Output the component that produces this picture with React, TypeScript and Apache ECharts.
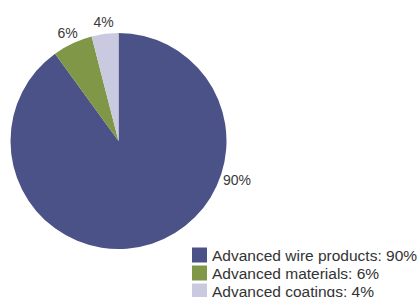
import React, { useEffect, useRef } from "react";
import * as echarts from "echarts";

const categories = ["Advanced wire products", "Advanced materials", "Advanced coatings"];
const values = [90, 6, 4];
const colors = ["#4b5288", "#7f9746", "#c9cadf"];

export default function App() {
  const ref = useRef<HTMLDivElement>(null);
  useEffect(() => {
    const chart = echarts.init(ref.current!, null, { renderer: "svg" });
    const font = "'Liberation Sans', Arial, Helvetica, sans-serif";
    const cx = 118.5;
    const cy = 141;
    const total = values.reduce((a, b) => a + b, 0);
    const mids: number[] = [];
    let acc = 0;
    values.forEach((v) => {
      const mid = 90 - ((acc + v / 2) / total) * 360;
      mids.push((mid * Math.PI) / 180);
      acc += v;
    });
    chart.setOption({
      animation: false,
      legend: {
        orient: "vertical",
        left: 192,
        top: 247,
        padding: 0,
        itemWidth: 15,
        itemHeight: 15,
        itemGap: 2,
        icon: "rect",
        formatter: (name: string) => {
          const i = categories.indexOf(name);
          return `${name}: ${values[i]}%`;
        },
        textStyle: { fontFamily: font, fontSize: 15.5, color: "#333", lineHeight: 15 },
        data: categories,
      },
      series: [
        {
          type: "pie",
          center: [cx, cy],
          radius: [0, 108],
          startAngle: 90,
          clockwise: true,
          label: {
            show: true,
            position: "outside",
            formatter: "{c}%",
            fontFamily: font,
            fontSize: 14,
            color: "#3a3a3a",
          },
          labelLine: { show: false, length: 4, length2: 0 },
          labelLayout: (params: any) => {
            const i = params.dataIndex;
            if (i === 0) return { x: 237, y: 180, align: "center", verticalAlign: "middle" };
            const r = 119.5;
            return {
              x: cx + r * Math.cos(mids[i]),
              y: cy - r * Math.sin(mids[i]),
              align: "center",
              verticalAlign: "middle",
            };
          },
          itemStyle: { borderWidth: 0 },
          emphasis: { disabled: true },
          data: categories.map((c, i) => ({ name: c, value: values[i], itemStyle: { color: colors[i] } })),
        },
      ],
    });
    return () => chart.dispose();
  }, []);
  return <div ref={ref} style={{ position: "fixed", left: 0, top: 0, width: 419, height: 330, background: "#fff" }} />;
}
